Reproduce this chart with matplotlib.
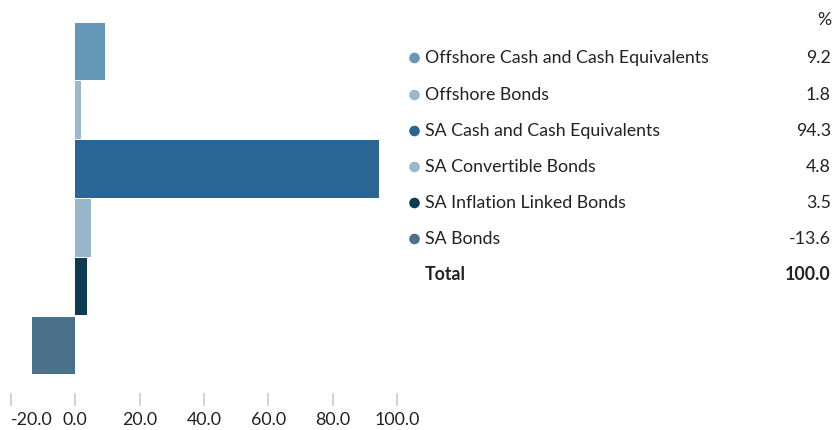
import matplotlib
matplotlib.use("Agg")
import matplotlib.pyplot as plt

categories = ["Offshore Cash and Cash Equivalents", "Offshore Bonds", "SA Cash and Cash Equivalents",
              "SA Convertible Bonds", "SA Inflation Linked Bonds", "SA Bonds"]
values = [9.2, 1.8, 94.3, 4.8, 3.5, -13.6]
colors = ["#6598b8", "#9bb8cc", "#2a6594", "#99b6cb", "#0e3a52", "#4a7189"]
total_label = "Total"
total_value = 100.0
xticks = [-20, 0, 20, 40, 60, 80, 100]

W, H = 834, 430
plt.rcParams['font.family'] = ['Lato', 'DejaVu Sans']
fig = plt.figure(figsize=(W / 100, H / 100), dpi=100)

# axes in pixel coordinates
ax_left, ax_right, ax_top, ax_bottom = 11, 397, 22, 406
ax = fig.add_axes([ax_left / W, 1 - ax_bottom / H, (ax_right - ax_left) / W, (ax_bottom - ax_top) / H])
band = 58.8
ypos = list(range(len(categories)))
ax.barh(ypos, values, height=0.98, color=colors, left=0)
ax.set_xlim(-20, 100)
ax.set_ylim(-0.5 + (ax_bottom - ax_top) / band, -0.5)
ax.set_xticks(xticks)
ax.set_xticklabels([f"{t:.1f}" for t in xticks])
ax.tick_params(axis='x', direction='in', length=9.4, width=1.4, color='#d3d3d3',
               labelsize=12.8, labelcolor='#222222', pad=4)
ax.get_xticklabels()[0].set_horizontalalignment('left')
ax.set_yticks([])
for s in ax.spines.values():
    s.set_visible(False)

# legend table
def fx(x): return x / W
def fy(y): return 1 - y / H

fs = 12.8
fig.text(fx(831), fy(20), "%", ha='right', va='center', fontsize=fs, color='#222222')
row_y = [58, 95, 131, 167, 203, 239]
for cat, val, col, y in zip(categories, values, colors, row_y):
    fig.text(fx(425), fy(y), cat, ha='left', va='center', fontsize=fs, color='#222222')
    fig.text(fx(831), fy(y), f"{val:.1f}", ha='right', va='center', fontsize=fs, color='#222222')
    fig.patches.append(matplotlib.patches.Circle((414.5, H - y), 5.3, transform=None,
                                                 facecolor=col, edgecolor='none', figure=fig))
fig.text(fx(425), fy(275), total_label, ha='left', va='center', fontsize=fs, color='#222222', fontweight='bold')
fig.text(fx(831), fy(275), f"{total_value:.1f}", ha='right', va='center', fontsize=fs, color='#222222', fontweight='bold')

fig.savefig("out.png", dpi=100)
